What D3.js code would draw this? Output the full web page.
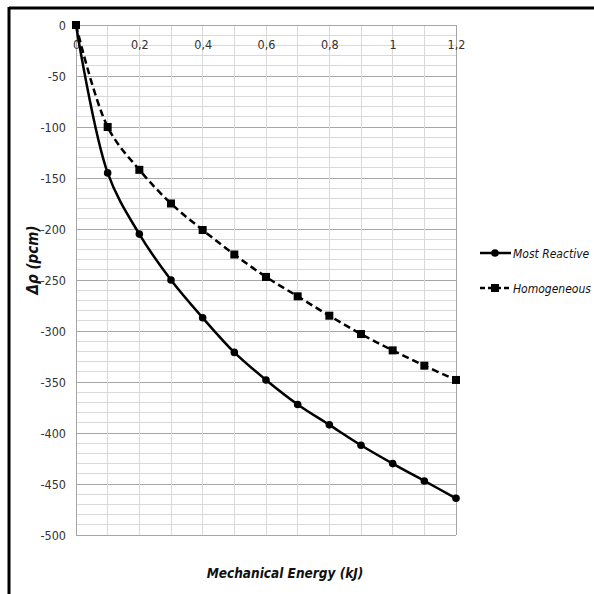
<!DOCTYPE html>
<html><head><meta charset="utf-8">
<script src="https://cdn.jsdelivr.net/npm/d3@7"></script>
<style>body{margin:0;background:#fff}svg{display:block}</style>
</head><body>
<svg id="c" width="594" height="594"></svg>
<script>
const energy = [0,0.1,0.2,0.3,0.4,0.5,0.6,0.7,0.8,0.9,1.0,1.1,1.2];
const mostReactive = [0,-145,-205,-250,-287,-321,-348,-372,-392,-412,-430,-447,-464];
const homogeneous = [0,-100,-142,-175,-201,-225,-247,-266,-285,-303,-319,-334,-348];
const xTicks = [0,0.2,0.4,0.6,0.8,1,1.2];
const yTicks = [0,-50,-100,-150,-200,-250,-300,-350,-400,-450,-500];
const seriesNames = ["Most Reactive","Homogeneous"];

const svg = d3.select("#c");
const x = d3.scaleLinear().domain([0,1.2]).range([76,456]);
const y = d3.scaleLinear().domain([0,-500]).range([25,535]);
const font = "'DejaVu Sans Condensed','Liberation Sans Narrow','Open Sans',sans-serif";

// outer frame (top and left)
svg.append("line").attr("x1",9).attr("x2",594).attr("y1",8).attr("y2",8).attr("stroke","#000").attr("stroke-width",3);
svg.append("line").attr("x1",9).attr("x2",9).attr("y1",7).attr("y2",594).attr("stroke","#000").attr("stroke-width",3);

// grid
const g = svg.append("g").attr("shape-rendering","crispEdges");
d3.range(-500,1,10).forEach(v=>{
  const major = v%50===0;
  g.append("line").attr("x1",x(0)).attr("x2",x(1.2)).attr("y1",y(v)).attr("y2",y(v))
   .attr("stroke", major?"#a6a6a6":"#d9d9d9").attr("stroke-width",1);
});
d3.range(1,13).forEach(i=>{
  const v=i/10;
  g.append("line").attr("x1",x(v)).attr("x2",x(v)).attr("y1",y(0)).attr("y2",y(-500))
   .attr("stroke", i===12?"#a6a6a6":"#d9d9d9").attr("stroke-width",1);
});
g.append("line").attr("x1",x(0)).attr("x2",x(0)).attr("y1",y(0)).attr("y2",y(-500)).attr("stroke","#a6a6a6");
g.append("line").attr("x1",x(0)).attr("x2",x(1.2)).attr("y1",y(0)).attr("y2",y(0)).attr("stroke","#a6a6a6");

// axes labels via d3 axes
const xAxis = d3.axisBottom(x).tickValues(xTicks).tickSize(0).tickPadding(15)
  .tickFormat(d=>String(d).replace(".",","));
const xg = svg.append("g").attr("transform",`translate(0,${y(0)})`).call(xAxis);
xg.select(".domain").remove();
xg.selectAll("text").attr("font-family",font).attr("font-size",12.5).attr("fill","#333");

const yAxis = d3.axisLeft(y).tickValues(yTicks).tickSize(0).tickPadding(10).tickFormat(d=>String(d));
const yg = svg.append("g").attr("transform",`translate(${x(0)},0)`).call(yAxis);
yg.select(".domain").remove();
yg.selectAll("text").attr("font-family",font).attr("font-size",12.5).attr("fill","#333");

// lines
const line = d3.line().x((d,i)=>x(energy[i])).y(d=>y(d)).curve(d3.curveCatmullRom.alpha(0.5));
svg.append("path").datum(homogeneous).attr("d",line).attr("fill","none").attr("stroke","#000")
  .attr("stroke-width",2.5).attr("stroke-dasharray","7,4");
svg.append("path").datum(mostReactive).attr("d",line).attr("fill","none").attr("stroke","#000")
  .attr("stroke-width",2.5);

svg.append("g").selectAll("rect").data(homogeneous).join("rect")
  .attr("x",(d,i)=>x(energy[i])-4).attr("y",d=>y(d)-4).attr("width",8).attr("height",8).attr("fill","#000");
svg.append("g").selectAll("circle").data(mostReactive).join("circle")
  .attr("cx",(d,i)=>x(energy[i])).attr("cy",d=>y(d)).attr("r",3.8).attr("fill","#000");

// titles
svg.append("text").attr("x",285).attr("y",578).attr("text-anchor","middle")
  .attr("font-family",font).attr("font-size",13.5).attr("font-weight","bold").attr("font-style","italic")
  .attr("fill","#111").text("Mechanical Energy (kJ)");
svg.append("text").attr("transform","translate(38,260) rotate(-90)").attr("text-anchor","middle")
  .attr("font-family",font).attr("font-size",15).attr("font-weight","bold").attr("font-style","italic")
  .attr("fill","#111").text("Δρ (pcm)");

// legend
const leg = svg.append("g");
[[253,false],[288,true]].forEach(([ly,dash],i)=>{
  leg.append("line").attr("x1",480).attr("x2",511).attr("y1",ly).attr("y2",ly).attr("stroke","#000")
    .attr("stroke-width",2.5).attr("stroke-dasharray",dash?"5,3":null);
  if(dash) leg.append("rect").attr("x",491).attr("y",ly-4).attr("width",8).attr("height",8);
  else leg.append("circle").attr("cx",495).attr("cy",ly).attr("r",3.8);
  leg.append("text").attr("x",513).attr("y",ly+4.5).attr("font-family",font).attr("font-size",12)
    .attr("font-style","italic").attr("fill","#111").text(seriesNames[i]);
});
</script>
</body></html>
